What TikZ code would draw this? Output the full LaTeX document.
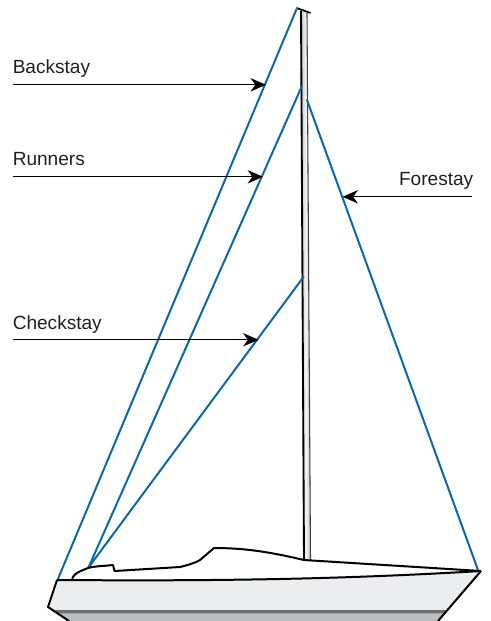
\documentclass[tikz,border=0pt]{standalone}
\usepackage{fontspec}
\setmainfont{Liberation Sans}
\usetikzlibrary{arrows.meta}
\definecolor{stayblue}{HTML}{0A69A8}
\definecolor{hullfill}{HTML}{ECEDEF}
\definecolor{banddark}{HTML}{6F6F72}
\definecolor{bandlight}{HTML}{BDBEC1}
\definecolor{textcol}{HTML}{231F20}
\tikzset{
  stayline/.style={draw=stayblue,line width=1.5pt,line cap=round},
  pointer/.style={draw=black,line width=0.85pt,-{Stealth[length=11.5pt,width=10pt,inset=3.5pt]}},
  hullline/.style={draw=black,line width=1.5pt,line join=round},
  lab/.style={anchor=base west,inner sep=0pt,font=\fontsize{14.3pt}{17pt}\selectfont,text=textcol}
}
\begin{document}
\begin{tikzpicture}[x=0.75pt,y=-0.75pt]
\useasboundingbox (0,0) rectangle (490,621);
% hull
\fill[hullfill] (57,580) -- (48,607) -- (69,621) -- (438,621) -- (481,571)
  .. controls (400,575) and (300,581) .. (57,580) -- cycle;
\fill[banddark] (51.5,610) -- (447.5,610) -- (444.5,613.5) -- (56.5,613.5) -- cycle;
\fill[bandlight] (56.5,613.5) -- (444.5,613.5) -- (438,621) -- (69,621) -- cycle;
% mast
\shade[left color=white!55!gray,right color=white!55!gray,middle color=white!92!gray]
  (301,11) -- (307,13) -- (310.5,560) -- (304,560) -- cycle;
\draw[black,line width=1.4pt] (301,11) -- (304,560);
\draw[black!75,line width=0.8pt] (307,13) -- (310.5,560);
\draw[black,line width=1.3pt] (296.5,8) -- (310.5,13);
% named points
\coordinate (backtop) at (297,8);
\coordinate (backfoot) at (57.5,580);
\coordinate (runtop) at (301.5,87);
\coordinate (checktop) at (303.5,277);
\coordinate (stayfoot) at (88.5,567.5);
\coordinate (foretop) at (307,100);
\coordinate (forefoot) at (478,570);
% stays
\draw[stayline] (backfoot) -- (backtop);
\draw[stayline] (stayfoot) -- (runtop);
\draw[stayline] (stayfoot) -- (checktop);
\draw[stayline] (foretop) -- (forefoot);
% deck and hull outline
\draw[hullline] (57,580) .. controls (200,581) and (330,580) .. (481,571);
\draw[hullline] (72,580) .. controls (73,575) and (75,573) .. (88,568)
  .. controls (95,566) and (105,566) .. (113,565) -- (114.5,571) -- (180,567)
  .. controls (188,565) and (195,563) .. (200,560) -- (214,548)
  .. controls (245,548) and (270,552) .. (304,560) -- (481,571);
\draw[hullline] (69,621) -- (48,607) -- (57,580);
\draw[hullline] (481,571) -- (438,621);
% labels
\node[lab] (backstay) at (12.5,73) {Backstay};
\node[lab] (runners) at (12.5,165) {Runners};
\node[lab] (checkstay) at (12.5,329) {Checkstay};
\node[lab,anchor=base east] (forestay) at (473.5,185) {Forestay};
% pointers
\coordinate (p1s) at (13,84.8);\coordinate (p1e) at (266,84.8);
\coordinate (p2s) at (13,176.8);\coordinate (p2e) at (263,176.8);
\coordinate (p3s) at (13,339.8);\coordinate (p3e) at (258.5,339.8);
\coordinate (p4s) at (472,196.8);\coordinate (p4e) at (342.5,196.8);
\draw[pointer] (p1s) -- (p1e);
\draw[pointer] (p2s) -- (p2e);
\draw[pointer] (p3s) -- (p3e);
\draw[pointer] (p4s) -- (p4e);
\end{tikzpicture}
\end{document}
